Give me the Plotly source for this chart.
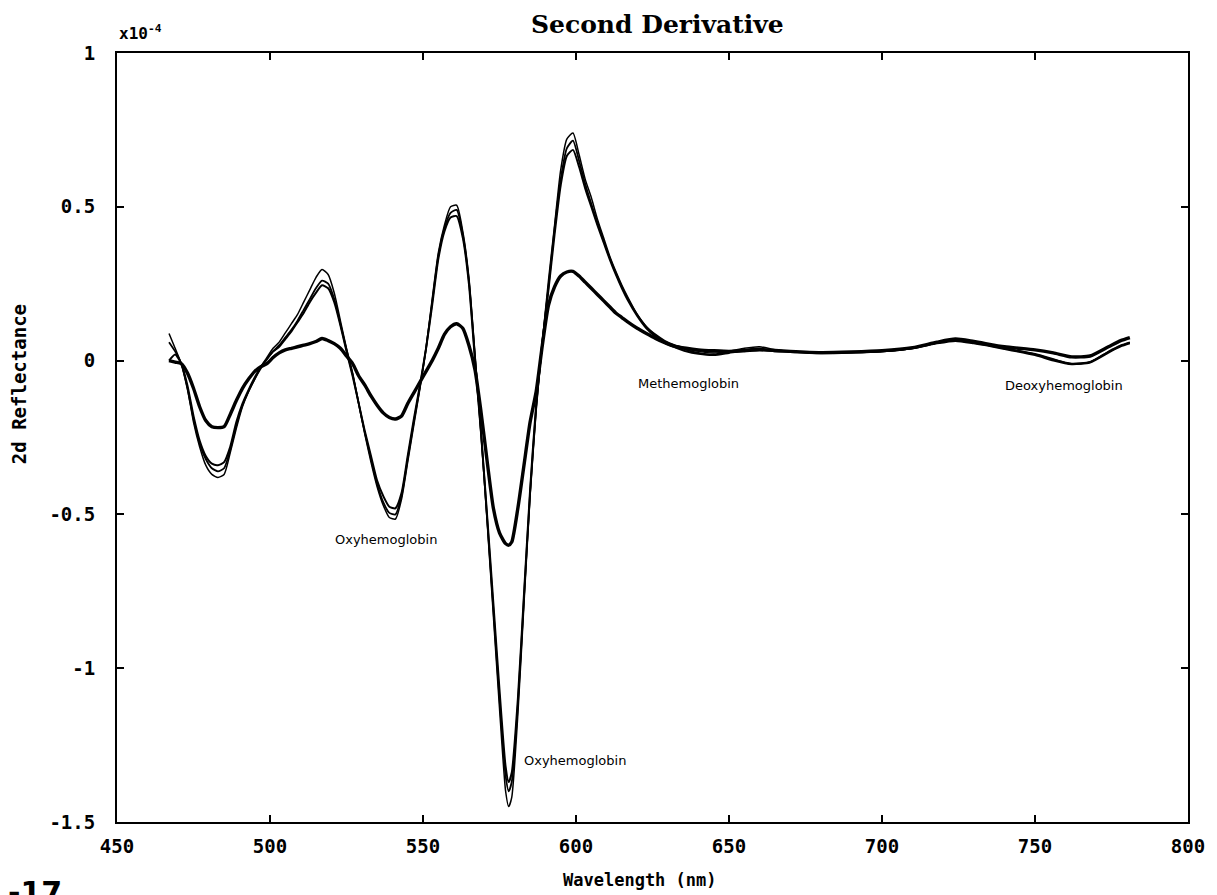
import plotly.graph_objects as go

wavelength = [467, 469, 471, 473, 475, 477, 479, 481, 483, 485, 487, 489, 491, 493, 495, 497, 499,
              501, 503, 505, 507, 509, 511, 513, 515, 517, 519, 521, 523, 525, 527, 529, 531, 533,
              535, 537, 539, 541, 543, 545, 547, 549, 551, 553, 555, 557, 559, 561, 563, 565, 567,
              569, 571, 573, 575, 577, 578, 579, 581, 583, 585, 587, 589, 591, 593, 595, 597, 599,
              601, 603, 605, 607, 609, 611, 613, 615, 617, 620, 623, 626, 629, 632, 636, 640, 645,
              650, 655, 660, 665, 670, 680, 690, 700, 710, 718, 724, 730, 740, 750, 756, 762, 768,
              774, 778, 781]

curve_c = [0.088, 0.04, -0.01, -0.09, -0.2, -0.28, -0.34, -0.37, -0.38, -0.37, -0.30, -0.22, -0.15,
           -0.10, -0.06, -0.02, 0.01, 0.04, 0.06, 0.09, 0.12, 0.15, 0.19, 0.23, 0.27, 0.296, 0.28,
           0.22, 0.13, 0.04, -0.04, -0.14, -0.24, -0.33, -0.41, -0.47, -0.51, -0.515, -0.45, -0.33,
           -0.21, -0.09, 0.04, 0.20, 0.35, 0.44, 0.50, 0.505, 0.42, 0.27, 0.02, -0.24, -0.53, -0.83,
           -1.13, -1.40, -1.45, -1.42, -1.15, -0.79, -0.44, -0.16, 0.06, 0.26, 0.44, 0.62, 0.72,
           0.74, 0.67, 0.59, 0.53, 0.46, 0.40, 0.34, 0.29, 0.245, 0.205, 0.15, 0.11, 0.085, 0.065,
           0.052, 0.04, 0.03, 0.025, 0.03, 0.04, 0.045, 0.035, 0.03, 0.025, 0.028, 0.03, 0.04, 0.06,
           0.068, 0.06, 0.04, 0.022, 0.005, -0.012, -0.005, 0.03, 0.05, 0.06]

curve_b = [0.06, 0.03, -0.01, -0.09, -0.19, -0.27, -0.32, -0.35, -0.36, -0.35, -0.29, -0.21, -0.145,
           -0.10, -0.06, -0.025, 0.005, 0.03, 0.05, 0.075, 0.10, 0.13, 0.165, 0.20, 0.235, 0.26,
           0.25, 0.20, 0.12, 0.035, -0.045, -0.14, -0.235, -0.32, -0.40, -0.46, -0.495, -0.50, -0.44,
           -0.32, -0.20, -0.085, 0.04, 0.19, 0.34, 0.43, 0.48, 0.49, 0.41, 0.26, 0.01, -0.24, -0.52,
           -0.81, -1.10, -1.35, -1.40, -1.37, -1.12, -0.77, -0.43, -0.15, 0.06, 0.24, 0.43, 0.59,
           0.69, 0.715, 0.65, 0.575, 0.51, 0.45, 0.39, 0.335, 0.285, 0.24, 0.20, 0.15, 0.11, 0.082,
           0.062, 0.05, 0.035, 0.025, 0.02, 0.028, 0.036, 0.04, 0.033, 0.03, 0.025, 0.027, 0.03,
           0.04, 0.058, 0.066, 0.058, 0.04, 0.02, 0.003, -0.01, -0.004, 0.028, 0.048, 0.058]

curve_a = [0.0, 0.02, -0.01, -0.08, -0.18, -0.26, -0.31, -0.335, -0.34, -0.33, -0.28, -0.20, -0.14,
           -0.095, -0.055, -0.02, 0.005, 0.03, 0.045, 0.07, 0.095, 0.125, 0.155, 0.19, 0.22, 0.245,
           0.235, 0.19, 0.115, 0.03, -0.05, -0.14, -0.23, -0.31, -0.39, -0.44, -0.475, -0.48, -0.43,
           -0.31, -0.19, -0.08, 0.04, 0.18, 0.33, 0.42, 0.465, 0.47, 0.40, 0.25, 0.0, -0.24, -0.51,
           -0.79, -1.07, -1.32, -1.37, -1.34, -1.10, -0.76, -0.42, -0.14, 0.06, 0.23, 0.41, 0.57,
           0.665, 0.685, 0.63, 0.56, 0.50, 0.44, 0.385, 0.33, 0.28, 0.235, 0.195, 0.145, 0.105,
           0.078, 0.058, 0.045, 0.03, 0.022, 0.018, 0.025, 0.032, 0.036, 0.03, 0.028, 0.024, 0.026,
           0.03, 0.04, 0.056, 0.064, 0.056, 0.038, 0.018, 0.0, -0.012, -0.006, 0.026, 0.046, 0.056]

curve_d = [0.0, -0.005, -0.01, -0.04, -0.09, -0.15, -0.195, -0.215, -0.218, -0.215, -0.175, -0.13,
           -0.09, -0.06, -0.035, -0.02, -0.01, 0.01, 0.025, 0.035, 0.04, 0.045, 0.05, 0.055, 0.062,
           0.072, 0.065, 0.055, 0.04, 0.015, -0.01, -0.05, -0.08, -0.115, -0.145, -0.17, -0.185,
           -0.19, -0.18, -0.14, -0.105, -0.07, -0.035, 0.0, 0.04, 0.085, 0.11, 0.12, 0.105, 0.05,
           -0.03, -0.17, -0.33, -0.48, -0.56, -0.595, -0.6, -0.59, -0.48, -0.34, -0.2, -0.10, 0.05,
           0.18, 0.24, 0.275, 0.288, 0.29, 0.275, 0.255, 0.235, 0.215, 0.195, 0.175, 0.155, 0.14,
           0.125, 0.105, 0.088, 0.072, 0.058, 0.047, 0.04, 0.035, 0.032, 0.03, 0.032, 0.035, 0.033,
           0.03, 0.026, 0.028, 0.032, 0.042, 0.06, 0.07, 0.062, 0.045, 0.035, 0.025, 0.012, 0.015,
           0.045, 0.065, 0.075]

x_ticks = [450, 500, 550, 600, 650, 700, 750, 800]
y_ticks = [-1.5, -1, -0.5, 0, 0.5, 1]
y_ticktext = ["-1.5", "-1", "-0.5", "0", "0.5", "1"]

labels = ["Oxyhemoglobin", "Oxyhemoglobin", "Methemoglobin", "Deoxyhemoglobin"]
label_x = [520.5, 582.5, 619.5, 739.5]
label_y = [-0.58, -1.30, -0.075, -0.08]

fig = go.Figure()
series = [(curve_d, 3.4), (curve_a, 2.0), (curve_b, 1.8), (curve_c, 1.5)]
for ys, w in series:
    fig.add_trace(go.Scatter(x=wavelength, y=ys, mode="lines",
                             line=dict(color="black", width=w, shape="spline", smoothing=0.6),
                             showlegend=False, hoverinfo="skip"))

for t, xv, yv in zip(labels, label_x, label_y):
    fig.add_annotation(x=xv, y=yv, text=t, showarrow=False, xanchor="left", yanchor="middle",
                       font=dict(family="DejaVu Sans", size=13, color="black"))

mono = "DejaVu Sans Mono"
axis_common = dict(showline=True, linecolor="black", linewidth=2, mirror="ticks",
                   ticks="inside", ticklen=7, tickwidth=2, tickcolor="black",
                   showgrid=False, zeroline=False,
                   tickfont=dict(family=mono, size=19, color="black", weight="bold"))

fig.update_xaxes(range=[450, 800], tickvals=x_ticks, ticktext=[str(v) for v in x_ticks],
                 ticklabelstandoff=6, **axis_common)
fig.update_yaxes(range=[-1.5, 1], tickvals=y_ticks, ticktext=y_ticktext,
                 ticklabelstandoff=16, **axis_common)

fig.add_annotation(text="Second Derivative", xref="paper", yref="paper", x=0.505, y=1.0,
                   yshift=12, xanchor="center", yanchor="bottom", showarrow=False,
                   font=dict(family="DejaVu Serif", size=25, color="black", weight="bold"))
fig.add_annotation(text="x10<sup>-4</sup>", xref="paper", yref="paper", x=0.0, y=1.0,
                   yshift=8, xanchor="left", yanchor="bottom", showarrow=False,
                   font=dict(family=mono, size=16, color="black", weight="bold"))
fig.add_annotation(text="Wavelength (nm)", xref="paper", yref="paper", x=0.488, y=-0.075,
                   xanchor="center", yanchor="middle", showarrow=False,
                   font=dict(family=mono, size=17, color="black", weight="bold"))
fig.add_annotation(text="2d Reflectance", xref="paper", yref="paper", x=-0.092, y=0.57,
                   xanchor="center", yanchor="middle", showarrow=False, textangle=-90,
                   font=dict(family=mono, size=19, color="black", weight="bold"))
fig.add_annotation(text="-17", xref="paper", yref="paper", x=-0.104, y=-0.066,
                   xanchor="left", yanchor="top", showarrow=False,
                   font=dict(family="DejaVu Sans", size=30, color="black", weight="bold"))

fig.update_layout(width=1217, height=895, margin=dict(l=117, r=27, t=53, b=73),
                  plot_bgcolor="white", paper_bgcolor="white")

fig.write_html("out.html")
